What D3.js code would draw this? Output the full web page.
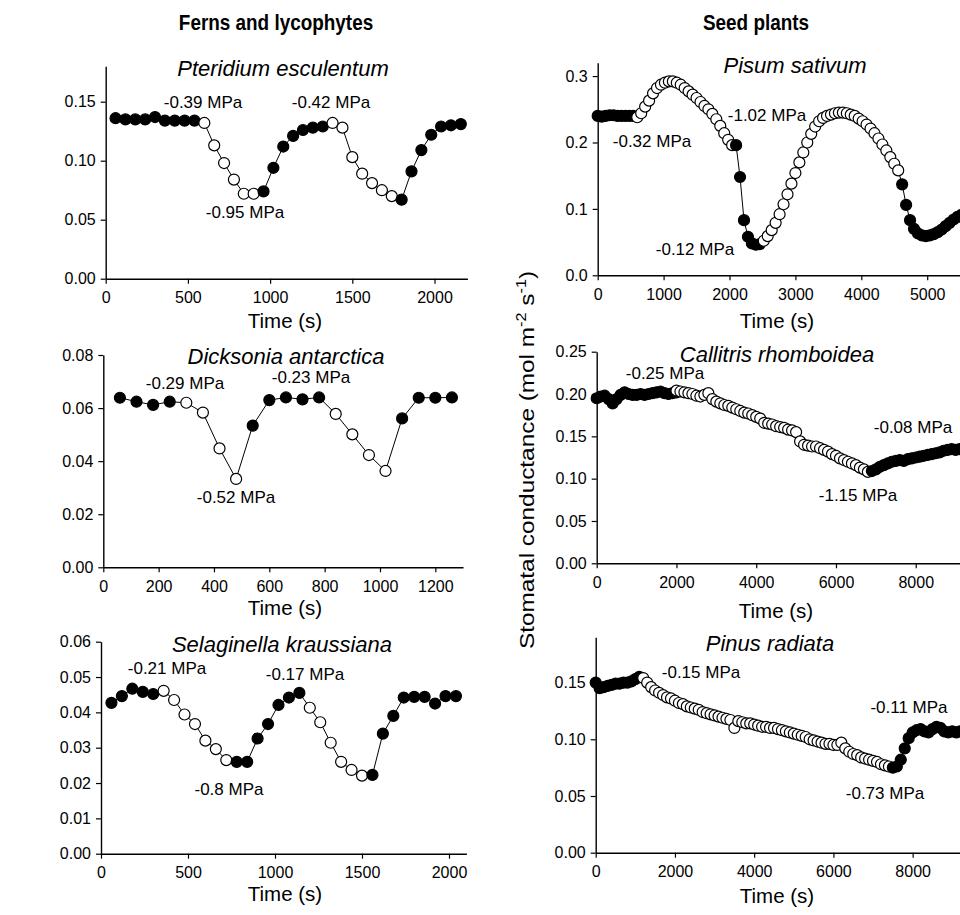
<!DOCTYPE html>
<html><head><meta charset="utf-8">
<script src="https://cdn.jsdelivr.net/npm/d3@7"></script>
<style>
body{margin:0;background:#fff;}
text{font-family:"Liberation Sans",Arial,sans-serif;fill:#000;}
</style></head>
<body>
<script>
// ---------- DATA ----------
// Pteridium esculentum (open = 1 for open symbols)
const pteridiumTime = [60,120,180,240,300,360,420,480,540,600,660,720,780,840,900,960,1020,1080,1140,1200,1260,1320,1380,1440,1500,1560,1620,1680,1740,1800,1860,1920,1980,2040,2100,2160];
const pteridiumG = [0.136,0.135,0.135,0.135,0.137,0.134,0.134,0.134,0.134,0.132,0.113,0.098,0.084,0.072,0.072,0.074,0.094,0.112,0.121,0.126,0.128,0.129,0.132,0.128,0.103,0.089,0.081,0.075,0.070,0.067,0.091,0.109,0.122,0.129,0.130,0.131];
const pteridiumOpen = [0,0,0,0,0,0,0,0,0,1,1,1,1,1,1,0,0,0,0,0,0,0,1,1,1,1,1,1,1,0,0,0,0,0,0,0];

// Dicksonia antarctica
const dicksoniaTime = [60,120,180,240,300,360,420,480,540,600,660,720,780,840,900,960,1020,1080,1140,1200,1260];
const dicksoniaG = [0.0639,0.0624,0.0612,0.0624,0.0620,0.0583,0.0448,0.0333,0.0534,0.0630,0.0640,0.0633,0.0640,0.0578,0.0501,0.0423,0.0363,0.0561,0.0639,0.0639,0.0640];
const dicksoniaOpen = [0,0,0,0,1,1,1,1,0,0,0,0,0,1,1,1,1,0,0,0,0];

// Selaginella kraussiana
const selaginellaTime = [60,120,180,240,300,360,420,480,540,600,660,720,780,840,900,960,1020,1080,1140,1200,1260,1320,1380,1440,1500,1560,1620,1680,1740,1800,1860,1920,1980,2040];
const selaginellaG = [0.0427,0.0446,0.0467,0.0458,0.0452,0.0461,0.0435,0.0394,0.0367,0.0320,0.0296,0.0265,0.0260,0.0260,0.0326,0.0367,0.0421,0.0442,0.0455,0.0413,0.0372,0.0314,0.0260,0.0237,0.0221,0.0223,0.0340,0.0390,0.0442,0.0444,0.0444,0.0425,0.0446,0.0446];
const selaginellaOpen = [0,0,0,0,0,1,1,1,1,1,1,1,0,0,0,0,0,0,0,1,1,1,1,1,1,0,0,0,0,0,0,0,0,0];

// Pisum sativum (60 s sampling), phases alternate filled / open
const pisumStep = 60;
const pisumPhase1 = [0.240,0.239,0.240,0.241,0.241,0.240,0.240,0.240,0.240,0.240];                     // filled, from 0 s
const pisumPhase2 = [0.238,0.244,0.254,0.263,0.274,0.282,0.287,0.290,0.292,0.292,0.290,0.287,0.282,0.277,0.272,0.267,0.261,0.255,0.250,0.243,0.235,0.225,0.214,0.204,0.196]; // open, from 600 s
const pisumPhase3 = [0.196,0.148,0.083,0.058,0.048,0.046,0.047];                                       // filled, from 2100 s
const pisumPhase4 = [0.052,0.059,0.068,0.079,0.092,0.107,0.122,0.138,0.154,0.170,0.185,0.200,0.213,0.224,0.232,0.237,0.240,0.242,0.244,0.245,0.245,0.244,0.242,0.240,0.236,0.232,0.227,0.221,0.214,0.206,0.197,0.188,0.178,0.168,0.158]; // open, from 2520 s
const pisumPhase5 = [0.137,0.106,0.083,0.070,0.063,0.060,0.059,0.060,0.062,0.065,0.069,0.074,0.079,0.084,0.088,0.091]; // filled, from 4620 s
const pisumStarts = [0,600,2100,2520,4620];

// Callitris rhomboidea (100 s sampling)
const callitrisStep = 100;
const callitrisPhase1 = [0.195,0.197,0.198,0.194,0.189,0.194,0.199,0.202,0.200,0.199,0.199,0.200,0.199,0.200,0.201,0.202,0.203,0.201,0.200,0.201,0.202]; // filled, from 0 s
const callitrisPhase2 = [0.204,0.203,0.202,0.201,0.200,0.198,0.197,0.199,0.201,0.194,0.191,0.189,0.187,0.186,0.184,0.182,0.180,0.178,0.177,0.175,0.173,0.171,0.166,0.165,0.164,0.162,0.161,0.160,0.158,0.157,0.155,0.144,0.140,0.139,0.138,0.138,0.136,0.134,0.132,0.129,0.127,0.124,0.122,0.120,0.118,0.116,0.113,0.111,0.108]; // open, from 2000 s
const callitrisPhase3 = [0.109,0.111,0.114,0.116,0.118,0.120,0.121,0.122,0.121,0.123,0.124,0.125,0.126,0.127,0.128,0.129,0.130,0.131,0.133,0.134,0.135,0.134,0.135,0.134]; // filled, from 6900 s
const callitrisStarts = [0,2000,6900];

// Pinus radiata (100 s sampling)
const pinusStep = 100;
const pinusPhase1 = [0.150,0.145,0.146,0.147,0.148,0.149,0.149,0.150,0.150,0.151,0.153,0.155]; // filled, from 0 s
const pinusPhase2 = [0.154,0.150,0.146,0.143,0.141,0.139,0.137,0.136,0.134,0.132,0.131,0.129,0.128,0.127,0.126,0.124,0.123,0.122,0.121,0.120,0.119,0.118,0.117,0.110,0.116,0.115,0.114,0.114,0.113,0.112,0.111,0.111,0.110,0.110,0.109,0.108,0.107,0.106,0.105,0.104,0.103,0.102,0.100,0.099,0.098,0.097,0.096,0.096,0.095,0.095,0.097,0.092,0.089,0.087,0.086,0.084,0.083,0.082,0.081,0.080,0.078,0.077,0.076]; // open, from 1200 s
const pinusPhase3 = [0.075,0.076,0.082,0.092,0.101,0.106,0.108,0.109,0.107,0.106,0.109,0.111,0.110,0.107,0.106,0.107,0.106,0.107]; // filled, from 7500 s
const pinusStarts = [0,1200,7500];

// ---------- HELPERS ----------
function fromArrays(times, g, open){ return times.map((t,i)=>({t:t, g:g[i], open:!!open[i]})); }
function fromPhases(phases, starts, step){
  const out=[];
  phases.forEach((ph,k)=>ph.forEach((v,i)=>out.push({t:starts[k]+i*step, g:v, open:(k%2===1)})));
  return out;
}

const W=960,H=915;
const svg=d3.select('body').append('svg').attr('width',W).attr('height',H);

function panel(c){
  const x=d3.scaleLinear().domain(c.xDomain).range(c.xRange);
  const y=d3.scaleLinear().domain(c.yDomain).range(c.yRange);
  const g=svg.append('g');
  const ya=g.append('g').attr('transform',`translate(${c.xRange[0]},0)`)
    .call(d3.axisLeft(y).tickValues(c.yTicks).tickFormat(d3.format(c.yFmt)).tickSize(5).tickSizeOuter(0).tickPadding(5));
  const xa=g.append('g').attr('transform',`translate(0,${c.yRange[0]})`)
    .call(d3.axisBottom(x).tickValues(c.xTicks).tickFormat(d3.format('d')).tickSize(5).tickSizeOuter(0).tickPadding(8));
  [ya,xa].forEach(a=>{
    a.select('.domain').attr('stroke','#000').attr('stroke-width',1.4);
    a.selectAll('.tick line').attr('stroke','#000').attr('stroke-width',1.2);
    a.selectAll('.tick text').attr('font-size',16).attr('fill','#000').attr('font-family','"Liberation Sans",Arial,sans-serif');
  });
  // annotations drawn beneath the data
  c.labels.forEach(l=>g.append('text').attr('x',l[1]).attr('y',l[2]).attr('text-anchor','middle')
    .attr('font-size',17).text(l[0]));
  g.append('path').datum(c.data).attr('fill','none').attr('stroke','#000').attr('stroke-width',1)
    .attr('d',d3.line().x(d=>x(d.t)).y(d=>y(d.g)));
  g.selectAll('circle.pt').data(c.data).enter().append('circle')
    .attr('cx',d=>x(d.t)).attr('cy',d=>y(d.g)).attr('r',5.5)
    .attr('fill',d=>d.open?'#fff':'#000').attr('stroke','#000').attr('stroke-width',1.2);
  g.append('text').attr('x',c.title[1]).attr('y',c.title[2]).attr('text-anchor','middle')
    .attr('font-size',22).attr('font-style','italic').text(c.title[0]);
  g.append('text').attr('x',c.timeLabel[0]).attr('y',c.timeLabel[1]).attr('text-anchor','middle')
    .attr('font-size',20.5).text('Time (s)');
}

// Ferns and lycophytes
panel({xDomain:[0,2200],xRange:[105.7,467.4],yDomain:[0,0.18],yRange:[278.7,66.3],
  xTicks:[0,500,1000,1500,2000],yTicks:[0,0.05,0.10,0.15],yFmt:'.2f',
  data:fromArrays(pteridiumTime,pteridiumG,pteridiumOpen),
  title:['Pteridium esculentum',283,76],timeLabel:[285,328],
  labels:[['-0.39 MPa',203,108],['-0.95 MPa',245,218],['-0.42 MPa',331,108]]});

panel({xDomain:[0,1300],xRange:[103.3,463],yDomain:[0,0.08],yRange:[567.3,355],
  xTicks:[0,200,400,600,800,1000,1200],yTicks:[0,0.02,0.04,0.06,0.08],yFmt:'.2f',
  data:fromArrays(dicksoniaTime,dicksoniaG,dicksoniaOpen),
  title:['Dicksonia antarctica',286,364],timeLabel:[285,615],
  labels:[['-0.29 MPa',185,389],['-0.52 MPa',236,503],['-0.23 MPa',311,383]]});

panel({xDomain:[0,2100],xRange:[101,466.4],yDomain:[0,0.06],yRange:[853.7,641.7],
  xTicks:[0,500,1000,1500,2000],yTicks:[0,0.01,0.02,0.03,0.04,0.05,0.06],yFmt:'.2f',
  data:fromArrays(selaginellaTime,selaginellaG,selaginellaOpen),
  title:['Selaginella kraussiana',282,652],timeLabel:[285,901],
  labels:[['-0.21 MPa',167,674],['-0.8 MPa',229,795],['-0.17 MPa',305,680]]});

// Seed plants
panel({xDomain:[0,6000],xRange:[597.7,597.7+6000*0.0659],yDomain:[0,0.32],yRange:[275.3,62.8],
  xTicks:[0,1000,2000,3000,4000,5000],yTicks:[0,0.1,0.2,0.3],yFmt:'.1f',
  data:fromPhases([pisumPhase1,pisumPhase2,pisumPhase3,pisumPhase4,pisumPhase5],pisumStarts,pisumStep),
  title:['Pisum sativum',795,73],timeLabel:[777,328],
  labels:[['-0.32 MPa',652,147],['-1.02 MPa',767,121],['-0.12 MPa',695,255]]});

panel({xDomain:[0,10000],xRange:[596.7,596.7+398.8],yDomain:[0,0.25],yRange:[563.3,351.7],
  xTicks:[0,2000,4000,6000,8000],yTicks:[0,0.05,0.10,0.15,0.20,0.25],yFmt:'.2f',
  data:fromPhases([callitrisPhase1,callitrisPhase2,callitrisPhase3],callitrisStarts,callitrisStep),
  title:['Callitris rhomboidea',777,362],timeLabel:[776,618],
  labels:[['-0.25 MPa',665,379],['-0.08 MPa',913,433],['-1.15 MPa',858,501]]});

panel({xDomain:[0,10000],xRange:[595.7,595.7+396.2],yDomain:[0,0.19],yRange:[852.7,637.2],
  xTicks:[0,2000,4000,6000,8000],yTicks:[0,0.05,0.10,0.15],yFmt:'.2f',
  data:fromPhases([pinusPhase1,pinusPhase2,pinusPhase3],pinusStarts,pinusStep),
  title:['Pinus radiata',770,651],timeLabel:[777,903],
  labels:[['-0.15 MPa',701,678],['-0.11 MPa',909,713],['-0.73 MPa',885,799]]});

// Column headings
svg.append('text').attr('transform','translate(276,30) scale(0.86,1)').attr('text-anchor','middle').attr('font-size',22).attr('font-weight','bold').text('Ferns and lycophytes');
svg.append('text').attr('transform','translate(756,30) scale(0.86,1)').attr('text-anchor','middle').attr('font-size',22).attr('font-weight','bold').text('Seed plants');

// Y axis label
const yl=svg.append('text').attr('transform','translate(534,460) rotate(-90) scale(1.16,1)').attr('text-anchor','middle').attr('font-size',21);
yl.append('tspan').text('Stomatal conductance (mol m');
yl.append('tspan').attr('dy',-8).attr('font-size',14).text('-2');
yl.append('tspan').attr('dy',8).text(' s');
yl.append('tspan').attr('dy',-8).attr('font-size',14).text('-1');
yl.append('tspan').attr('dy',8).text(')');
</script>
</body></html>
